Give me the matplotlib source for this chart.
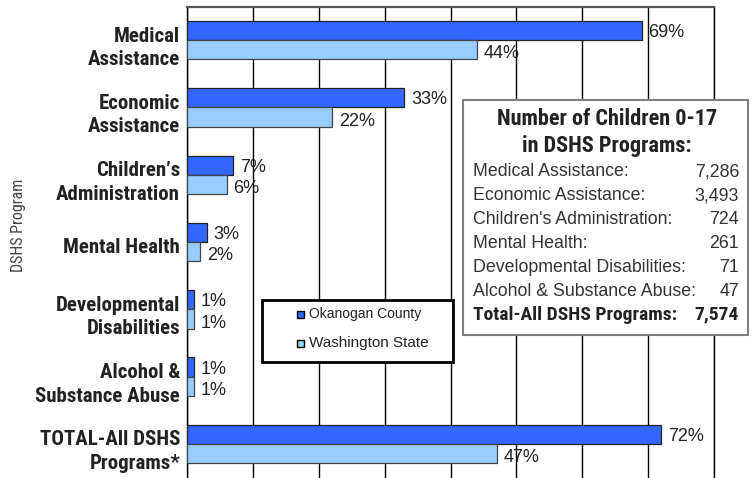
import numpy as np
import matplotlib
matplotlib.use("Agg")
import matplotlib.pyplot as plt
from matplotlib import font_manager
from matplotlib.patches import Rectangle
from matplotlib.transforms import ScaledTranslation

# data
programs = ["Medical\nAssistance", "Economic\nAssistance", "Children\u2019s\nAdministration",
            "Mental Health", "Developmental\nDisabilities", "Alcohol &\nSubstance Abuse",
            "TOTAL-All DSHS\nPrograms*"]
okanogan = [69, 33, 7, 3, 1, 1, 72]
washington = [44, 22, 6, 2, 1, 1, 47]
series_names = ["Okanogan County", "Washington State"]

box_title = "Number of Children 0-17\nin DSHS Programs:"
box_rows = ["Medical Assistance:", "Economic Assistance:", "Children's Administration:",
            "Mental Health:", "Developmental Disabilities:", "Alcohol & Substance Abuse:"]
box_counts = ["7,286", "3,493", "724", "261", "71", "47"]
box_total = ("Total-All DSHS Programs:", "7,574")

DARK = "#3366ff"
LIGHT = "#99ccff"

# narrow font, like Arial Narrow
names = {f.name for f in font_manager.fontManager.ttflist}
NARROW = "Liberation Sans"
for cand in ["Liberation Sans Narrow", "Roboto Condensed", "Archivo Narrow", "PT Sans Narrow",
             "Open Sans Condensed", "IBM Plex Sans Condensed"]:
    if cand in names:
        NARROW = cand
        break
REG = "Liberation Sans"

W, H = 754, 478
fig = plt.figure(figsize=(W / 100, H / 100), dpi=100)

def fx(px):
    return px / W

def fy(py):
    return 1 - py / H

# axes: top at 6.5px, runs off the bottom of the figure
ax_top, ax_bot = 6.5, 491
ax = fig.add_axes([fx(187), fy(ax_bot), fx(714) - fx(187), fy(ax_top) - fy(ax_bot)])

y = np.arange(len(programs))
bh = 0.286
ax.barh(y - bh / 2, okanogan, height=bh, color=DARK, edgecolor="#222222", linewidth=0.9, zorder=3)
ax.barh(y + bh / 2, washington, height=bh, color=LIGHT, edgecolor="#444444", linewidth=0.9, zorder=3)

for yi, v in zip(y, okanogan):
    ax.annotate(f"{v}%", (v, yi - bh / 2), xytext=(5, -1.5), textcoords="offset points",
                ha="left", va="center", fontsize=13, family=REG, color="#222222", zorder=4)
for yi, v in zip(y, washington):
    ax.annotate(f"{v}%", (v, yi + bh / 2), xytext=(5, -3), textcoords="offset points",
                ha="left", va="center", fontsize=13, family=REG, color="#222222", zorder=4)

ax.set_xlim(0, 80)
ax.set_ylim(-0.5 + (ax_bot - ax_top) / 67.3, -0.5)
ax.set_xticks(np.arange(0, 81, 10))
ax.tick_params(axis="x", length=0, labelbottom=False)
ax.grid(axis="x", color="black", linewidth=1)
ax.set_axisbelow(True)

ax.set_yticks(y)
ax.set_yticklabels(programs, fontsize=15, fontweight="bold", family=NARROW,
                   color="#222222", linespacing=1.3)
ax.tick_params(axis="y", length=0, pad=5)
for lbl in ax.get_yticklabels():
    lbl.set_transform(lbl.get_transform() + ScaledTranslation(0, -2.5 / 72, fig.dpi_scale_trans))

ax.spines["bottom"].set_visible(False)
ax.spines["top"].set_color("#555555")
ax.spines["top"].set_linewidth(1.6)
ax.spines["left"].set_linewidth(1)
ax.spines["right"].set_linewidth(1)

fig.text(fx(19), fy(225), "DSHS Program", rotation=90, ha="center", va="center",
         fontsize=11.5, family=NARROW, color="#444444")

# legend box
fig.add_artist(Rectangle((fx(262), fy(362)), fx(453) - fx(262), fy(300) - fy(362),
                         transform=fig.transFigure, facecolor="white", edgecolor="black",
                         linewidth=2, zorder=5))
for name, col, py, fs in zip(series_names, [DARK, LIGHT], [314, 343], [10, 11]):
    fig.add_artist(Rectangle((fx(297), fy(py + 3.5)), fx(7), 7 / H, transform=fig.transFigure,
                             facecolor=col, edgecolor="black", linewidth=1, zorder=6))
    fig.text(fx(309), fy(py), name, ha="left", va="center", fontsize=fs, family=REG,
             color="#222222", zorder=6)

# number of children box
fig.add_artist(Rectangle((fx(463), fy(335)), fx(748) - fx(463), fy(100) - fy(335),
                         transform=fig.transFigure, facecolor="white", edgecolor="#808080",
                         linewidth=1.5, zorder=5))
fig.text(fx(607), fy(132.5), box_title, ha="center", va="center", fontsize=16,
         fontweight="bold", family=NARROW, color="#222222", linespacing=1.3, zorder=6)
for i, (lab, cnt) in enumerate(zip(box_rows, box_counts)):
    py = 172 + i * 23.8
    fig.text(fx(473), fy(py), lab, ha="left", va="center", fontsize=12.8, family=REG,
             color="#333333", zorder=6)
    fig.text(fx(739), fy(py), cnt, ha="right", va="center", fontsize=12.8, family=REG,
             color="#333333", zorder=6)
py = 172 + 6 * 23.8
fig.text(fx(473), fy(py), box_total[0], ha="left", va="center", fontsize=14,
         fontweight="bold", family=NARROW, color="#222222", zorder=6)
fig.text(fx(739), fy(py), box_total[1], ha="right", va="center", fontsize=14,
         fontweight="bold", family=NARROW, color="#222222", zorder=6)

fig.savefig("out.png", dpi=100)
